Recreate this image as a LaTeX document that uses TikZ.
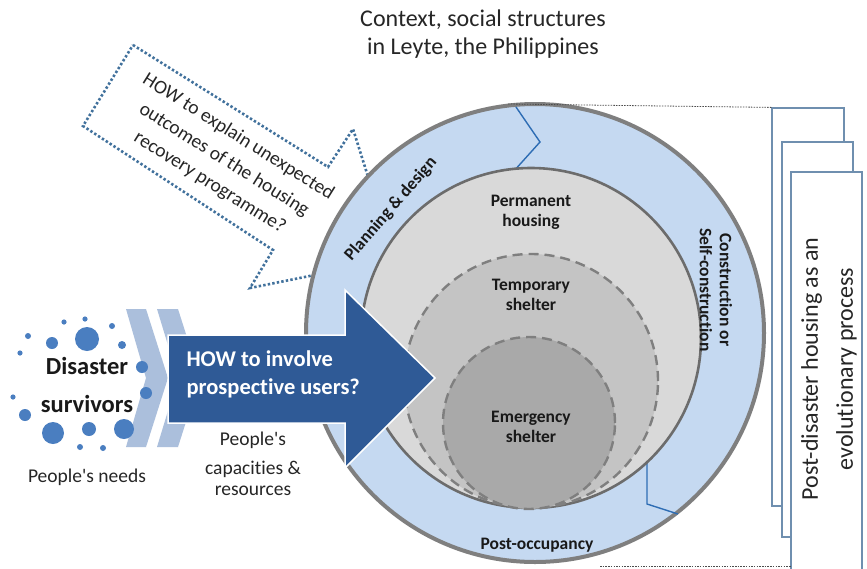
\documentclass[tikz,border=0pt]{standalone}
\usepackage{fontspec}
\setmainfont{Carlito}
\newfontfamily\cf{Carlito}[Ligatures=NoCommon]
\newcommand\fz[2]{\cf\fontsize{#1}{#2}\selectfont}
\definecolor{ringblue}{HTML}{C5D9F1}
\definecolor{ringgray}{HTML}{7F7F7F}
\definecolor{permgray}{HTML}{D9D9D9}
\definecolor{tempgray}{HTML}{C4C4C4}
\definecolor{emergray}{HTML}{A9A9A9}
\definecolor{arrowblue}{HTML}{2F5A96}
\definecolor{chevblue}{HTML}{ABBFDC}
\definecolor{dotblue}{HTML}{4A7EC0}
\definecolor{calloutblue}{HTML}{41719C}
\definecolor{sepblue}{HTML}{2E6DB4}
\definecolor{pageline}{HTML}{6F8FAF}
\begin{document}
\begin{tikzpicture}[x=1pt,y=-1pt,
  ringcircle/.style={circle, fill=ringblue, draw=ringgray, line width=4pt, inner sep=0pt},
  permcircle/.style={circle, fill=permgray, draw=ringgray!85!black, line width=2.6pt, inner sep=0pt},
  dashcircle/.style={circle, draw=ringgray, line width=2.4pt, dash pattern=on 10pt off 6pt, inner sep=0pt},
  lbl/.style={font=\fz{17.5}{20}\bfseries, align=center, text=black!90},
  sepline/.style={draw=sepblue, line width=1.4pt},
  chevron/.style={fill=chevblue},
  dotc/.style={fill=dotblue},
  bigarrow/.style={fill=arrowblue, draw=white, line width=1.5pt},
  callout/.style={draw=calloutblue, line width=2.6pt, dash pattern=on 2.4pt off 2.2pt},
  pagebox/.style={draw=pageline, fill=white, line width=1.2pt, inner sep=0pt},
  dotline/.style={draw=black!70, line width=0.8pt, dash pattern=on 1.5pt off 1.2pt},
  plain/.style={font=\fz{19.5}{28}, align=center, text=black!85}]
\useasboundingbox (0,0) rectangle (867,568);
\fill[white] (0,0) rectangle (867,568);

% title
\node[font=\fz{24}{28}, align=center, text=black!85] (title) at (483,34) {Context, social structures\\in Leyte, the Philippines};

% dotted callout arrow
\draw[callout] (133,45) -- (328,167) -- (353,129) -- (394,259) -- (250,288) -- (273,250) -- (83,126) -- cycle;
\node[plain, font=\fz{19.5}{27}, rotate=-32] (q2) at (224,160) {HOW to explain unexpected\\outcomes of the housing\\recovery programme?};

% chevrons
\fill[chevron] (126,309) -- (146,309) -- (168,378) -- (146,447) -- (126,447) -- (146,378) -- cycle;
\fill[chevron] (157,309) -- (178,309) -- (200,378) -- (178,447) -- (157,447) -- (178,378) -- cycle;

% dots
\foreach \px/\py/\r in {87/339/12, 52/343/6, 64/322/2.6, 85/319/2.6, 112/326/3, 122/345/4, 28/336/3, 20/353/2.6, 142/367/6, 146/393/6, 13/397/2.6, 25/415/6, 53/433/11, 89/429/7, 124/429/10, 80/447/3, 103/448/3}
  \fill[dotc] (\px,\py) circle (\r);

% people
\node[font=\fz{24.5}{28}\bfseries, text=black!90] (dis) at (87,366) {Disaster};
\node[font=\fz{24.5}{28}\bfseries, text=black!90] (surv) at (87,404) {survivors};
\node[plain] (needs) at (87,477) {People\textquotesingle s needs};
\node[plain] (cap1) at (253,440) {People\textquotesingle s};
\node[plain] (cap2) at (253,469) {capacities \&};
\node[plain] (cap3) at (253,491) {resources};

% outer ring
\node[ringcircle, minimum size=458pt] (outer) at (535,333) {};
\draw[sepline] (516,107) -- (540,142) -- (513,172);
\draw[sepline] (647,455) -- (647,504) -- (678,514);
\node[permcircle, minimum size=340pt] (perm) at (531,338) {};
\node[dashcircle, fill=tempgray, minimum size=254pt] (temp) at (531,381) {};
\node[dashcircle, fill=emergray, minimum size=172pt] (emer) at (529,423) {};

% ring labels
\node[lbl] (lperm) at (531,212) {Permanent\\housing};
\node[lbl] (ltemp) at (531,295) {Temporary\\shelter};
\node[lbl] (lemer) at (531,427) {Emergency\\shelter};
\node[lbl] (lpost) at (537,545) {Post-occupancy};
\node[lbl, rotate=49] (lplan) at (391,209) {Planning \& design};
\node[lbl, rotate=-90] (lcons) at (716,290) {Construction or\\Self-construction};

% big arrow
\path[bigarrow] (168,335) -- (345,335) -- (345,290) -- (435,378) -- (345,468) -- (345,423) -- (168,423) -- cycle;
\node[font=\fz{22.5}{28}\bfseries, text=white, align=left, anchor=west] (q1) at (183,374) {HOW to involve\\prospective users?};

% pages
\node[pagebox, minimum width=72pt, minimum height=398pt] (p1) at (808,307) {};
\node[pagebox, minimum width=71pt, minimum height=395pt] (p2) at (817.5,339.5) {};
\fill[white] (791,172) rectangle (862,570);
\coordinate (p3bl) at (791,570);
\coordinate (p3tl) at (791,172);
\coordinate (p3tr) at (862,172);
\coordinate (p3br) at (862,570);
\draw[draw=pageline, line width=1.2pt] (p3bl) -- (p3tl) -- (p3tr) -- (p3br);
\node[font=\fz{24}{35}, align=center, text=black!85, rotate=90] (evo) at (829,369) {Post-disaster housing as an\\evolutionary process};

% dotted connectors
\coordinate (ctop) at (508,104);
\coordinate (cbot) at (600,566);
\draw[dotline] (ctop) -- (p1.north west);
\draw[dotline] (cbot) -- (791,566);
\end{tikzpicture}
\end{document}
